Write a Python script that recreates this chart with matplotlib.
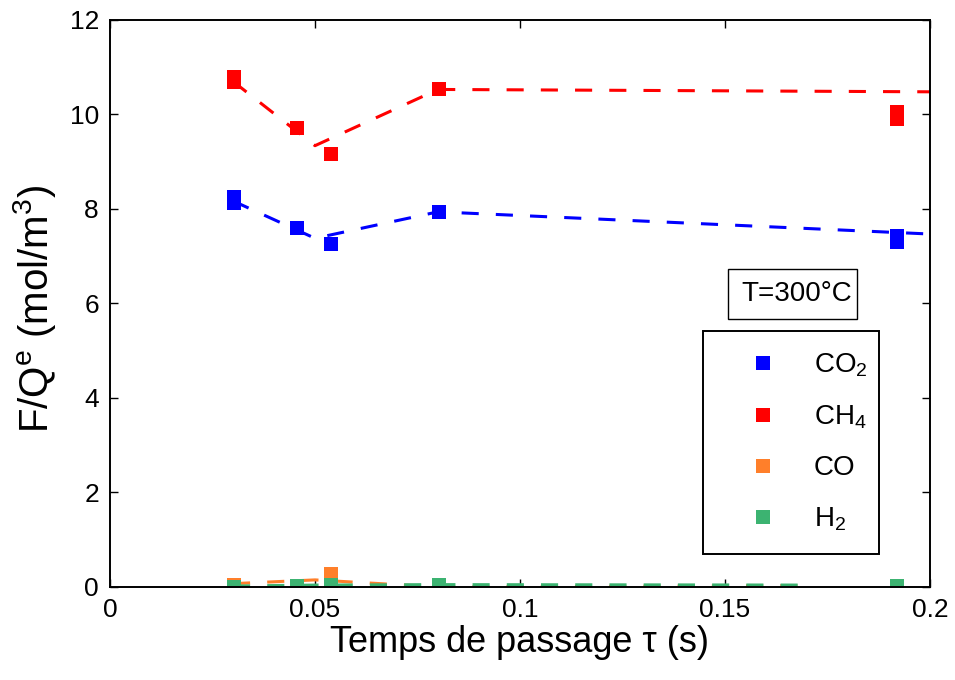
import matplotlib
matplotlib.use("Agg")
import matplotlib.pyplot as plt
from matplotlib.patches import Rectangle

plt.rcParams["font.family"] = ["Liberation Sans", "DejaVu Sans"]
plt.rcParams["mathtext.fontset"] = "custom"
plt.rcParams["mathtext.rm"] = "Liberation Sans"
plt.rcParams["mathtext.it"] = "Liberation Sans:italic"
plt.rcParams["mathtext.default"] = "rm"

# measured points (two repeats at the first and last residence time)
tau_exp = [0.0302, 0.0302, 0.0456, 0.0539, 0.0802, 0.192, 0.192]
co2_exp = [8.25, 8.13, 7.59, 7.25, 7.93, 7.43, 7.30]
ch4_exp = [10.79, 10.69, 9.72, 9.17, 10.53, 10.05, 9.90]
co_exp = [0.05, 0.05, 0.02, 0.27, 0.0, 0.0, 0.0]
h2_exp = [0.0, 0.0, 0.03, 0.04, 0.05, 0.02, 0.02]

# model curves
tau_mod = [0.03, 0.05, 0.08, 0.2]
co2_mod = [8.17, 7.38, 7.94, 7.47]
ch4_mod = [10.70, 9.34, 10.53, 10.48]
tau_mod_low = [0.03, 0.05, 0.08, 0.1715]
co_mod = [0.07, 0.15, 0.0, 0.03]
h2_mod = [0.02, 0.04, 0.05, 0.04]

species = ["CO$_2$", "CH$_4$", "CO", "H$_2$"]
colors = ["#0000FF", "#FF0000", "#FF7F2A", "#3CB371"]

fig = plt.figure(figsize=(9.55, 6.8), dpi=100)
ax = fig.add_axes([0.1152, 0.1368, 0.8586, 0.8338])

dash = (0, (5.6, 5.6))
ax.plot(tau_mod, co2_mod, linestyle=dash, color=colors[0], lw=2.2)
ax.plot(tau_mod, ch4_mod, linestyle=dash, color=colors[1], lw=2.2)
ax.plot(tau_mod_low, co_mod, linestyle=dash, color=colors[2], lw=2.2)
ax.plot(tau_mod_low, h2_mod, linestyle=dash, color=colors[3], lw=2.2)

for y, c, lab in zip([co2_exp, ch4_exp, co_exp, h2_exp], colors, species):
    ax.plot(tau_exp, y, linestyle="none", marker="s", ms=10, mew=0,
            color=c, label=lab)

ax.set_xlim(0, 0.2)
ax.set_ylim(0, 12)
ax.set_xticks([0, 0.05, 0.1, 0.15, 0.2])
ax.set_xticklabels(["0", "0.05", "0.1", "0.15", "0.2"])
ax.set_yticks(range(0, 13, 2))
ax.tick_params(direction="in", length=6, width=1, labelsize=19,
               top=True, right=True, pad=8)
for s in ax.spines.values():
    s.set_linewidth(1.4)

ax.set_xlabel("Temps de passage τ (s)", fontsize=26, labelpad=2)
ax.set_ylabel("F/Q$^{e}$ (mol/m$^{3}$)", fontsize=29)
ax.yaxis.set_label_coords(-0.064, 0.49)

# temperature box
ax.add_patch(Rectangle((0.7537, 0.4727), 0.1573, 0.0882, transform=ax.transAxes,
                       fill=False, ec="black", lw=1.0))
ax.text(0.7695, 0.5168, "T=300°C", transform=ax.transAxes, fontsize=20,
        ha="left", va="center")

leg = ax.legend(loc="upper left", bbox_to_anchor=(0.7232, 0.0, 0.2146, 0.4515),
                mode="expand", borderaxespad=0, fontsize=20, fancybox=False,
                framealpha=1, edgecolor="black", borderpad=0.74,
                handlelength=2.85, handletextpad=0.4, labelspacing=0.88)
leg.get_frame().set_linewidth(1.4)

fig.savefig("out.png", dpi=100)
